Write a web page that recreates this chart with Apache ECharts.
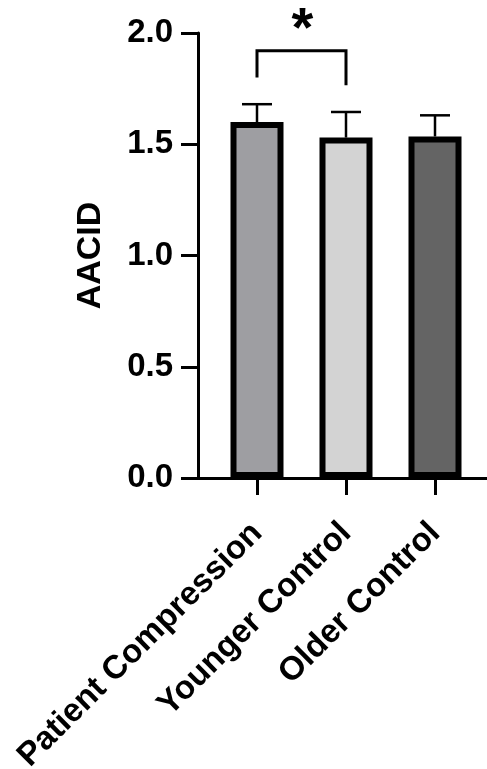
<!DOCTYPE html>
<html>
<head>
<meta charset="utf-8">
<script src="https://cdn.jsdelivr.net/npm/echarts@6/dist/echarts.min.js"></script>
<style>
  html, body { margin: 0; padding: 0; background: #ffffff; }
  #chart { width: 487px; height: 769px; }
</style>
</head>
<body>
<div id="chart"></div>
<script>
// Group names, means and SD (upward error bars only)
const categories = ['Patient Compression', 'Younger Control', 'Older Control'];
const means = [1.60, 1.53, 1.535];
const sds = [0.08, 0.115, 0.095];
const barColors = ['#9e9ea2', '#d3d3d3', '#646464'];
const yTicks = [0, 0.5, 1.0, 1.5, 2.0];

// Significance bracket between the first two groups
const bracketPair = [0, 1];
const bracketTop = 1.92;
const bracketLegEnds = [1.80, 1.765];
const bracketMark = '*';

const FONT = 'Liberation Sans, Arial, sans-serif';
const chart = echarts.init(document.getElementById('chart'), null, { renderer: 'canvas' });

const option = {
  backgroundColor: '#ffffff',
  animation: false,
  grid: [
    { left: 212.5, width: 267, top: 33, bottom: 291, outerBoundsMode: 'none', containLabel: false },
    { left: 198, right: 0, top: 33, bottom: 291, outerBoundsMode: 'none', containLabel: false }
  ],
  xAxis: [
    {
      type: 'category', gridIndex: 0, data: categories,
      axisLine: { show: false },
      axisTick: { show: true, alignWithLabel: true, length: 17, lineStyle: { color: '#000', width: 3 } },
      axisLabel: {
        rotate: 45, margin: 50, color: '#000', fontFamily: FONT, fontWeight: 'bold', fontSize: 33, interval: 0
      },
      splitLine: { show: false }
    },
    {
      type: 'value', gridIndex: 1, min: 0, max: 1,
      axisLine: { show: true, lineStyle: { color: '#000', width: 3 } },
      axisTick: { show: false }, axisLabel: { show: false }, splitLine: { show: false }
    }
  ],
  yAxis: [
    {
      type: 'value', gridIndex: 0, min: yTicks[0], max: yTicks[yTicks.length - 1], interval: 0.5,
      offset: 14.5,
      name: 'AACID', nameLocation: 'middle', nameGap: 90, nameRotate: 90,
      nameTextStyle: { color: '#000', fontFamily: FONT, fontWeight: 'bold', fontSize: 34 },
      axisLine: { show: true, lineStyle: { color: '#000', width: 3 } },
      axisTick: { show: true, length: 17, lineStyle: { color: '#000', width: 3 } },
      axisLabel: {
        margin: 25, color: '#000', fontFamily: FONT, fontWeight: 'bold', fontSize: 33,
        formatter: v => v.toFixed(1)
      },
      splitLine: { show: false }
    },
    {
      type: 'value', gridIndex: 1, min: 0, max: 1, show: false
    }
  ],
  series: [
    {
      // upward SD whiskers with caps
      type: 'custom', xAxisIndex: 0, yAxisIndex: 0, z: 1,
      data: means.map((m, i) => [i, m, m + sds[i]]),
      renderItem: (params, api) => {
        const base = api.coord([api.value(0), api.value(1)]);
        const top = api.coord([api.value(0), api.value(2)]);
        const capHalf = 15;
        const style = { stroke: '#000', lineWidth: 2.5, fill: null };
        return {
          type: 'group',
          children: [
            { type: 'line', shape: { x1: base[0], y1: base[1], x2: top[0], y2: top[1] }, style },
            { type: 'line', shape: { x1: top[0] - capHalf, y1: top[1], x2: top[0] + capHalf, y2: top[1] }, style }
          ]
        };
      }
    },
    {
      type: 'bar', xAxisIndex: 0, yAxisIndex: 0, z: 2, barWidth: 53,
      data: means.map((m, i) => ({
        value: m,
        itemStyle: { color: barColors[i], borderColor: '#000', borderWidth: 6 }
      }))
    },
    {
      // significance bracket and star
      type: 'custom', xAxisIndex: 0, yAxisIndex: 0, z: 3,
      data: [[bracketPair[0], bracketPair[1], bracketTop, bracketLegEnds[0], bracketLegEnds[1]]],
      renderItem: (params, api) => {
        const a = api.value(0), b = api.value(1);
        const leftTop = api.coord([a, api.value(2)]);
        const rightTop = api.coord([b, api.value(2)]);
        const leftEnd = api.coord([a, api.value(3)]);
        const rightEnd = api.coord([b, api.value(4)]);
        const style = { stroke: '#000', lineWidth: 3, fill: null, lineJoin: 'miter' };
        const midX = (leftTop[0] + rightTop[0]) / 2;
        return {
          type: 'group',
          children: [
            {
              type: 'polyline',
              shape: { points: [[leftEnd[0], leftEnd[1]], [leftTop[0], leftTop[1]], [rightTop[0], rightTop[1]], [rightEnd[0], rightEnd[1]]] },
              style
            },
            {
              type: 'text',
              style: {
                x: midX + 1, y: leftTop[1] + 8, text: bracketMark, fill: '#000',
                font: 'bold 56px ' + FONT, textAlign: 'center', textVerticalAlign: 'bottom'
              }
            }
          ]
        };
      }
    }
  ]
};

chart.setOption(option);
</script>
</body>
</html>
